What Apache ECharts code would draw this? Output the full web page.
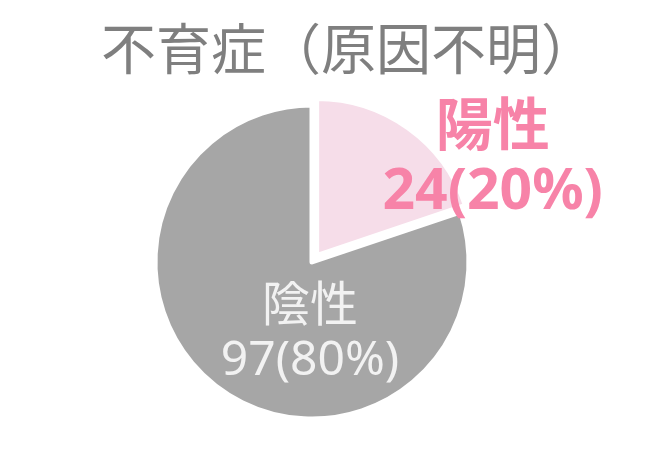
<!DOCTYPE html>
<html>
<head>
<meta charset="utf-8">
<script src="https://cdn.jsdelivr.net/npm/echarts@6/dist/echarts.min.js"></script>
<style>
  html, body { margin: 0; padding: 0; background: #fff; }
  #chart { width: 646px; height: 472px; }
</style>
</head>
<body>
<div id="chart"></div>
<script>
// --- data ---
const chartTitle = "不育症（原因不明）";
const categories = ["陽性", "陰性"];
const counts = [24, 97];

const FONT = "'Noto Sans', 'Noto Sans CJK JP', sans-serif";

const chart = echarts.init(document.getElementById("chart"));

// label look per slice (positive = pink bold, top-right; negative = light, inside)
const labelStyles = [
  { color: "#f783a8", fontSize: 57, fontWeight: "bold", lineHeight: 64, shift: [176, -95] },
  { color: "#f2f2f2", fontSize: 48, fontWeight: "normal", lineHeight: 54, shift: [-2, 72] }
];
const sliceColors = ["#f6dde9", "#a6a6a6"];

const data = categories.map((name, i) => ({
  name: name,
  value: counts[i],
  selected: i === 0,
  itemStyle: { color: sliceColors[i] },
  label: {
    position: "center",
    color: labelStyles[i].color,
    fontSize: labelStyles[i].fontSize,
    fontWeight: labelStyles[i].fontWeight,
    lineHeight: labelStyles[i].lineHeight
  }
}));

chart.setOption({
  animation: false,
  title: {
    text: chartTitle,
    left: 96,
    top: 16,
    textStyle: { fontFamily: "'Noto Sans CJK JP'", fontSize: 55, fontWeight: "normal", color: "#7f7f7f" }
  },
  series: [{
    type: "pie",
    center: [312, 262],
    radius: 157,
    startAngle: 90,
    clockwise: true,
    selectedMode: "single",
    selectedOffset: 8,
    avoidLabelOverlap: false,
    itemStyle: { borderColor: "#fff", borderWidth: 5 },
    label: {
      show: true,
      fontFamily: FONT,
      align: "center",
      formatter: p => `${p.name}\n${p.value}(${Math.round(p.percent)}%)`
    },
    labelLayout: p => ({ dx: labelStyles[p.dataIndex].shift[0], dy: labelStyles[p.dataIndex].shift[1] }),
    labelLine: { show: false },
    emphasis: { disabled: true },
    data: data
  }]
});
</script>
</body>
</html>
